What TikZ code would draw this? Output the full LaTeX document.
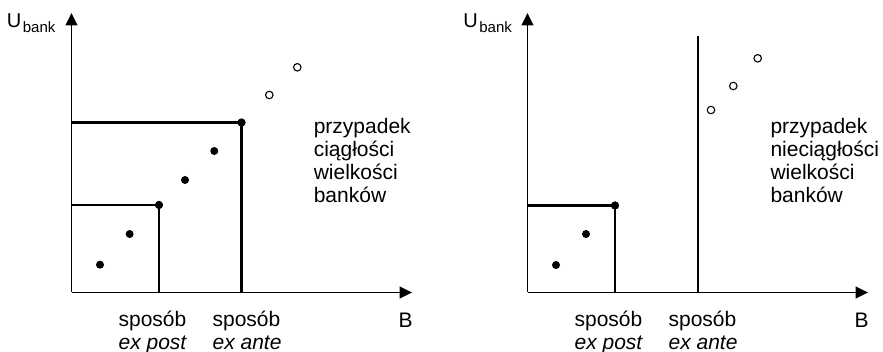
\documentclass[tikz,border=0pt]{standalone}
\usepackage{fontspec}
\setmainfont{Liberation Sans}
\usetikzlibrary{arrows.meta}
\begin{document}
\begin{tikzpicture}[x=1pt,y=-1pt,
  axis/.style={line width=1.3pt,-{Triangle[length=12.5pt,width=12pt]}},
  bound/.style={line width=2.2pt},
  fdot/.style={circle,fill=black,inner sep=0pt,minimum size=8pt},
  odot/.style={circle,draw=black,fill=white,line width=1.1pt,inner sep=0pt,minimum size=7.5pt},
  txt/.style={inner sep=0pt,anchor=base west,font=\fontsize{21}{23}\selectfont},
  ulab/.style={inner sep=0pt,anchor=base west,font=\fontsize{20}{20}\selectfont}]
\useasboundingbox (0,0) rectangle (883,352);

% ---------- left panel ----------
\coordinate (O1) at (71.5,292.5);
\coordinate (Y1) at (71.5,13);
\coordinate (X1) at (412,292.5);
\draw[axis] (O1) -- (Y1);
\draw[axis] (O1) -- (X1);
\coordinate (a1) at (71.5,205);
\coordinate (b1) at (159,292.5);
\coordinate (c1) at (71.5,122.5);
\coordinate (d1) at (241.5,292.5);
\node[ulab] (U1) at (6.7,27.5) {U\kern1.5pt\raisebox{-5.5pt}{\fontsize{15}{15}\selectfont bank}};
\node[txt] (B1) at (398.5,327) {B};

\node[fdot] (p1) at (100,264.7) {};
\node[fdot] (p2) at (129.7,234) {};
\node[fdot] (p3) at (159,205) {};
\node[fdot] (p4) at (185,180) {};
\node[fdot] (p5) at (214.3,151) {};
\node[fdot] (p6) at (241.5,122.5) {};
\draw[bound] (a1) -- (p3.center) -- (b1);
\draw[bound] (c1) -- (p6.center) -- (d1);
\node[fdot] at (p3) {};
\node[fdot] at (p6) {};
\node[odot] (q1) at (269.3,95) {};
\node[odot] (q2) at (297.3,67.3) {};

\node[txt] (t1a) at (313.6,134) {przypadek};
\node[txt] (t1b) at (313.6,157) {ciągłości};
\node[txt] (t1c) at (313.6,180) {wielkości};
\node[txt] (t1d) at (313.6,203) {banków};

\node[txt] (s1a) at (118.4,326.5) {sposób};
\node[txt] (s1b) at (118.4,349) {\itshape ex post};
\node[txt] (s1c) at (212.4,326.5) {sposób};
\node[txt] (s1d) at (212.4,349) {\itshape ex ante};

% ---------- right panel ----------
\coordinate (O2) at (527.5,292.5);
\coordinate (Y2) at (527.5,13);
\coordinate (X2) at (868,292.5);
\draw[axis] (O2) -- (Y2);
\draw[axis] (O2) -- (X2);
\coordinate (a2) at (527.5,205.5);
\coordinate (b2) at (615,292.5);
\coordinate (e2t) at (698,36);
\coordinate (e2b) at (698,292.5);
\node[ulab] (U2) at (463.2,27.5) {U\kern1.5pt\raisebox{-5.5pt}{\fontsize{15}{15}\selectfont bank}};
\node[txt] (B2) at (854.5,327) {B};

\node[fdot] (r1) at (556,265) {};
\node[fdot] (r2) at (586,234) {};
\node[fdot] (r3) at (615,205.5) {};
\draw[bound] (a2) -- (r3.center) -- (b2);
\node[fdot] at (r3) {};
\draw[bound] (e2t) -- (e2b);
\node[odot] (w1) at (711,110) {};
\node[odot] (w2) at (733.3,86) {};
\node[odot] (w3) at (757.7,58.3) {};

\node[txt] (t2a) at (770.3,134) {przypadek};
\node[txt] (t2b) at (770.3,157) {nieciągłości};
\node[txt] (t2c) at (770.3,180) {wielkości};
\node[txt] (t2d) at (770.3,203) {banków};

\node[txt] (s2a) at (574.4,326.5) {sposób};
\node[txt] (s2b) at (574.4,349) {\itshape ex post};
\node[txt] (s2c) at (668.4,326.5) {sposób};
\node[txt] (s2d) at (668.4,349) {\itshape ex ante};
\end{tikzpicture}
\end{document}
